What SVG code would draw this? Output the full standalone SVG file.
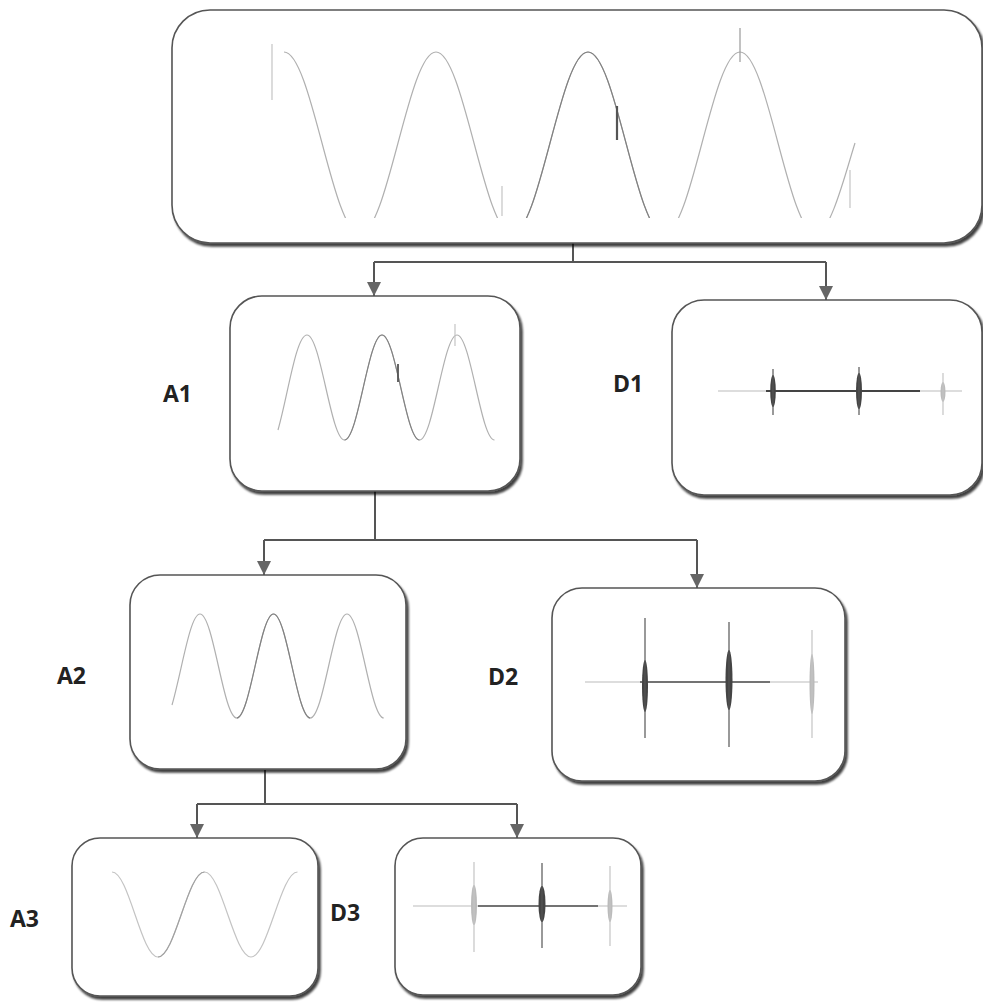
<svg xmlns="http://www.w3.org/2000/svg" width="983" height="1004" viewBox="0 0 983 1004">
<style>
.box{fill:#fff;stroke:#555;stroke-width:1.6;filter:url(#sh)}
.lbl{font-family:"Open Sans","Liberation Sans",sans-serif;font-weight:bold;font-size:23px;fill:#222}
.wave{fill:none;stroke:#b0b0b0;stroke-width:1.2}
.wd{fill:none;stroke:#808080;stroke-width:1.1}
.base{stroke:#bbb;stroke-width:1.2}
.based{stroke:#444;stroke-width:1.8}
.conn{fill:none;stroke:#555;stroke-width:2}
.blob{fill:#444}
.blobl{fill:#bbb}
.thin{stroke:#555;stroke-width:1.2}
.thinl{stroke:#c4c4c4;stroke-width:1.2}
</style>
<defs>
<filter id="sh" x="-5%" y="-5%" width="110%" height="115%">
<feDropShadow dx="2" dy="3" stdDeviation="1.2" flood-color="#000" flood-opacity="0.75"/>
</filter>
<marker id="ah" viewBox="0 0 14 14" refX="14" refY="7" markerWidth="14" markerHeight="14" markerUnits="userSpaceOnUse" orient="auto">
<path d="M0,0 L14,7 L0,14 Z" fill="#666"/>
</marker>
<clipPath id="topclip"><rect x="172" y="20" width="810" height="198"/></clipPath>
</defs>
<rect width="983" height="1004" fill="#fff"/>

<g id="connectors">
<path class="conn" d="M573,243 V262 M374,262 H826"/>
<path class="conn" d="M374,262 V296" marker-end="url(#ah)"/>
<path class="conn" d="M826,262 V300" marker-end="url(#ah)"/>
<path class="conn" d="M375,491 V540 M264,540 H697"/>
<path class="conn" d="M264,540 V575" marker-end="url(#ah)"/>
<path class="conn" d="M697,540 V588" marker-end="url(#ah)"/>
<path class="conn" d="M265,770 V804 M197,804 H517"/>
<path class="conn" d="M197,804 V838" marker-end="url(#ah)"/>
<path class="conn" d="M517,804 V838" marker-end="url(#ah)"/>
</g>

<g id="signal">
<rect class="box" x="172" y="10" width="810" height="233" rx="38"/>
<g clip-path="url(#topclip)">
<path class="wave" d="M284,52 C311.7,52 332.3,234 360,234 C387.7,234 408.3,52 436,52 C463.7,52 484.3,234 512,234 C539.7,234 560.3,52 588,52 C615.7,52 636.3,234 664,234 C691.7,234 712.3,52 740,52 C767.7,52 788.3,234 816,234"/>
<path class="wave" d="M816,234 C830,234 845,175 855,143"/>
<path class="wd" d="M512,234 C539.7,234 560.3,52 588,52 C615.7,52 636.3,234 664,234"/>
</g>
<path class="thinl" d="M272,44 V100"/>
<path class="thin" d="M617,106 V140" style="stroke-width:2.2"/>
<path class="thinl" d="M740,28 V62" style="stroke:#999"/>
<path class="thinl" d="M502,186 V216"/>
<path class="thinl" d="M850,170 V208"/>
</g>

<g id="a1">
<rect class="box" x="230" y="296" width="290" height="195" rx="32"/>
<path class="wave" d="M278,430 C288,395 296,335 307,335 C320.65,335 330.85,440 344.5,440 C358.15,440 368.35,335 382,335 C395.65,335 405.85,440 419.5,440 C433.15,440 443.35,335 457,335 C470.65,335 480.85,440 494.5,440"/>
<path class="wd" d="M344.5,440 C358.15,440 368.35,335 382,335 C395.65,335 405.85,440 419.5,440"/>
<path class="thin" d="M398,364 V382" style="stroke-width:1.8"/>
<path class="thinl" d="M455,324 V346"/>
<text class="lbl" x="163" y="402">A1</text>
</g>

<g id="d1">
<rect class="box" x="672" y="300" width="310" height="195" rx="32"/>
<path class="base" d="M718,391 H766 M920,391 H962"/>
<path class="based" d="M766,391 H920"/>
<ellipse class="blob" cx="773" cy="391" rx="2.8" ry="16"/>
<path class="thin" d="M773,369 V415"/>
<ellipse class="blob" cx="859" cy="391" rx="3" ry="18"/>
<path class="thin" d="M859,367 V415"/>
<ellipse class="blobl" cx="943" cy="392" rx="2.5" ry="10"/>
<path class="thinl" d="M943,373 V415"/>
<text class="lbl" x="613" y="392">D1</text>
</g>

<g id="a2">
<rect class="box" x="130" y="575" width="276" height="194" rx="30"/>
<path class="wave" d="M172,705 C182,670 190,614 200,614 C213.4,614 223.35,718 236.75,718 C250.15,718 260.1,614 273.5,614 C286.9,614 296.85,718 310.25,718 C323.65,718 333.6,614 347,614 C360.4,614 370.35,718 383.75,718"/>
<path class="wd" d="M236.75,718 C250.15,718 260.1,614 273.5,614 C286.9,614 296.85,718 310.25,718"/>
<text class="lbl" x="57" y="684">A2</text>
</g>

<g id="d2">
<rect class="box" x="552" y="588" width="293" height="193" rx="30"/>
<path class="base" d="M585,682 H640 M770,682 H818"/>
<path class="based" d="M640,682 H770" style="stroke-width:1.4"/>
<ellipse class="blob" cx="645" cy="686" rx="3" ry="26"/>
<path class="thin" d="M645,618 V738"/>
<ellipse class="blob" cx="729" cy="680" rx="3.5" ry="30"/>
<path class="thin" d="M729,622 V747"/>
<ellipse class="blobl" cx="812" cy="684" rx="2.5" ry="30"/>
<path class="thinl" d="M812,630 V738"/>
<text class="lbl" x="488" y="685">D2</text>
</g>

<g id="a3">
<rect class="box" x="72" y="838" width="246" height="158" rx="28"/>
<path class="wave" d="M112,872 C128.9,872 141.1,957 158,957 C174.9,957 187.6,872 204.5,872 C221.4,872 234.1,957 251,957 C267.9,957 280.6,872 297.5,872" style="stroke:#c4c4c4"/>
<path class="wd" d="M158,957 C174.9,957 187.6,872 204.5,872" style="stroke:#a0a0a0"/>
<text class="lbl" x="10" y="927">A3</text>
</g>

<g id="d3">
<rect class="box" x="395" y="838" width="246" height="157" rx="28"/>
<path class="base" d="M413,906 H478 M598,906 H627"/>
<path class="based" d="M478,906 H598" style="stroke-width:1.4"/>
<ellipse class="blobl" cx="474" cy="905" rx="3" ry="20"/>
<path class="thinl" d="M474,862 V952"/>
<ellipse class="blob" cx="542" cy="904" rx="3.5" ry="18"/>
<path class="thin" d="M542,863 V948"/>
<ellipse class="blobl" cx="610" cy="906" rx="2.5" ry="16"/>
<path class="thinl" d="M610,866 V946"/>
<text class="lbl" x="330" y="921">D3</text>
</g>
</svg>
